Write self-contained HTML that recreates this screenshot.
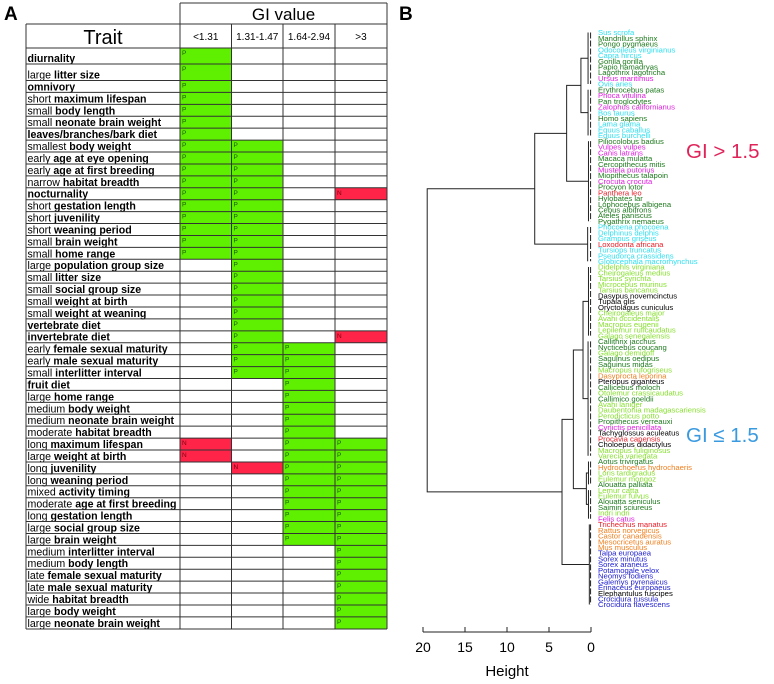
<!DOCTYPE html>
<html><head><meta charset="utf-8">
<style>
html,body{margin:0;padding:0;background:#fff;}
svg{display:block;font-family:"Liberation Sans",Arial,sans-serif;}
</style></head>
<body>
<svg id="fig" width="774" height="684" viewBox="0 0 774 684">
<text x="4" y="20" font-size="19" font-weight="bold">A</text>
<text x="399" y="20" font-size="19" font-weight="bold">B</text>
<g id="table"></g>
<g id="tree"></g>
<g id="labels"></g>
<g id="axis"></g>
<text x="686" y="158" font-size="20.5" fill="#e0245a">GI &gt; 1.5</text>
<text x="686" y="442" font-size="20.5" fill="#3a9ae0">GI ≤ 1.5</text>
</svg>
<script>
const NS="http://www.w3.org/2000/svg";
const traitPrefix=["","large","","short","small","small","","smallest","early","early","narrow","","short","short","short","small","small","large","small","small","small","small","","","early","early","small","","large","medium","medium","moderate","long","large","long","long","mixed","moderate","long","large","large","medium","medium","late","late","wide","large","large"];
const traitName=["diurnality","litter size","omnivory","maximum lifespan","body length","neonate brain weight","leaves/branches/bark diet","body weight","age at eye opening","age at first breeding","habitat breadth","nocturnality","gestation length","juvenility","weaning period","brain weight","home range","population group size","litter size","social group size","weight at birth","weight at weaning","vertebrate diet","invertebrate diet","female sexual maturity","male sexual maturity","interlitter interval","fruit diet","home range","body weight","neonate brain weight","habitat breadth","maximum lifespan","weight at birth","juvenility","weaning period","activity timing","age at first breeding","gestation length","social group size","brain weight","interlitter interval","body length","female sexual maturity","male sexual maturity","habitat breadth","body weight","neonate brain weight"];
const colLt131=["P","P","P","P","P","P","P","P","P","P","P","P","P","P","P","P","P","","","","","","","","","","","","","","","","N","N","","","","","","","","","","","","","",""];
const col131_147=["","","","","","","","P","P","P","P","P","P","P","P","P","P","P","P","P","P","P","P","P","P","P","P","","","","","","","","N","","","","","","","","","","","","",""];
const col164_294=["","","","","","","","","","","","","","","","","","","","","","","","","P","P","P","P","P","P","P","P","P","P","P","P","P","P","P","P","P","","","","","","",""];
const colGt3=["","","","","","","","","","","","N","","","","","","","","","","","","N","","","","","","","","","P","P","P","P","P","P","P","P","P","P","P","P","P","P","P","P"];
const colHeaders=["<1.31","1.31-1.47","1.64-2.94",">3"];

function el(tag,attrs,parent,text){const e=document.createElementNS(NS,tag);for(const k in attrs)e.setAttribute(k,attrs[k]);if(text!==undefined)e.textContent=text;parent.appendChild(e);return e;}

const T=document.getElementById('table');
const colX=[180,231.5,283,335,387];
const tx0=26;
function rowTop(i){return i<2?48+i*16:80.5+(i-2)*11.92;}
function rowBot(i){return i<47?rowTop(i+1):629;}
const cols=[colLt131,col131_147,col164_294,colGt3];
for(let i=0;i<traitName.length;i++){
  const y0=rowTop(i),y1=rowBot(i);
  for(let c=0;c<4;c++){
    const v=cols[c][i];
    if(v){
      const r=el('rect',{x:colX[c],y:y0,width:colX[c+1]-colX[c],height:y1-y0,fill:v==='P'?'#5ef000':'#ff2448'},T);
      
      
      const t=el('text',{x:colX[c]+2,y:y0+7,'font-size':6.5,fill:v==='P'?'#1a5a00':'#7a0010'},T,v);
      
      
    }
  }
  const t=el('text',{x:tx0+1.5,y:y1-2,'font-size':10.6,fill:'#000'},T);
  
  
  if(traitPrefix[i]){el('tspan',{},t,traitPrefix[i]+' ');}
  el('tspan',{'font-weight':'bold'},t,traitName[i]);
}
for(let i=0;i<=48;i++){const y=i<48?rowTop(i):629;el('line',{x1:tx0,x2:387,y1:y,y2:y,stroke:'#333','stroke-width':1},T);}
el('line',{x1:180,x2:387,y1:3,y2:3,stroke:'#333'},T);
el('line',{x1:tx0,x2:387,y1:24,y2:24,stroke:'#333'},T);
el('line',{x1:tx0,x2:tx0,y1:24,y2:629,stroke:'#333'},T);
el('line',{x1:180,x2:180,y1:3,y2:629,stroke:'#333'},T);
for(let c=1;c<4;c++)el('line',{x1:colX[c],x2:colX[c],y1:24,y2:629,stroke:'#333'},T);
el('line',{x1:387,x2:387,y1:3,y2:629,stroke:'#333'},T);
let h=el('text',{x:283.5,y:20,'font-size':17,'text-anchor':'middle'},T,'GI value');

h=el('text',{x:103,y:44,'font-size':20,'text-anchor':'middle'},T,'Trait');

for(let c=0;c<4;c++){const t=el('text',{x:(colX[c]+colX[c+1])/2,y:40,'font-size':10,'text-anchor':'middle'},T,colHeaders[c]);
}

const speciesList=[
["Sus scrofa","c"],["Mandrillus sphinx","g"],["Pongo pygmaeus","g"],["Odocoileus virginianus","c"],["Capra hircus","c"],["Gorilla gorilla","g"],["Papio hamadryas","g"],["Lagothrix lagotricha","g"],["Ursus maritimus","m"],["Ovis aries","c"],
["Erythrocebus patas","g"],["Phoca vitulina","m"],["Pan troglodytes","g"],["Zalophus californianus","m"],["Bos taurus","c"],["Homo sapiens","g"],["Lama glama","c"],["Equus caballus","c"],["Equus burchelli","c"],["Piliocolobus badius","g"],
["Vulpes vulpes","m"],["Canis latrans","m"],["Macaca mulatta","g"],["Cercopithecus mitis","g"],["Mustela putorius","m"],["Miopithecus talapoin","g"],["Crocuta crocuta","m"],["Procyon lotor","g"],["Panthera leo","r"],["Hylobates lar","g"],
["Lophocebus albigena","g"],["Cebus albifrons","g"],["Ateles paniscus","g"],["Pygathrix nemaeus","g"],["Phocoena phocoena","c"],["Delphinus delphis","c"],["Grampus griseus","c"],["Loxodonta africana","r"],["Tursiops truncatus","c"],["Pseudorca crassidens","c"],
["Globicephala macrorhynchus","c"],["Didelphis virginiana","l"],["Cheirogaleus medius","l"],["Tarsius syrichta","l"],["Microcebus murinus","l"],["Tarsius bancanus","l"],["Dasypus novemcinctus","k"],["Tupaia glis","k"],["Oryctolagus cuniculus","k"],["Cheirogaleus major","l"],
["Avahi occidentalis","l"],["Macropus eugenii","l"],["Lepilemur ruficaudatus","l"],["Galago senegalensis","l"],["Callithrix jacchus","g"],["Nycticebus coucang","g"],["Galago demidoff","l"],["Saguinus oedipus","g"],["Saguinus midas","g"],["Macropus rufogriseus","l"],
["Dasyprocta leporina","o"],["Pteropus giganteus","k"],["Callicebus moloch","g"],["Otolemur crassicaudatus","l"],["Callimico goeldii","g"],["Avahi laniger","l"],["Daubentonia madagascariensis","l"],["Perodicticus potto","l"],["Propithecus verreauxi","g"],["Cynictis penicillata","m"],
["Tachyglossus aculeatus","k"],["Procavia capensis","r"],["Choloepus didactylus","k"],["Macropus fuliginosus","l"],["Varecia variegata","l"],["Aotus trivirgatus","g"],["Hydrochoerus hydrochaeris","o"],["Loris tardigradus","l"],["Eulemur mongoz","l"],["Alouatta palliata","g"],
["Lemur catta","l"],["Eulemur fulvus","l"],["Alouatta seniculus","g"],["Saimiri sciureus","g"],["Indri indri","l"],["Felis catus","m"],["Trichechus manatus","r"],["Rattus norvegicus","o"],["Castor canadensis","o"],["Mesocricetus auratus","o"],
["Mus musculus","o"],["Talpa europaea","b"],["Sorex minutus","b"],["Sorex araneus","b"],["Potamogale velox","b"],["Neomys fodiens","b"],["Galemys pyrenaicus","b"],["Erinaceus europaeus","b"],["Elephantulus fuscipes","k"],["Crocidura russula","b"],
["Crocidura flavescens","b"]];
const groupColor={c:'#30e0f0',g:'#1e7a1e',m:'#e020e0',r:'#e8202a',l:'#88e030',o:'#f08020',b:'#2020d0',k:'#000'};
const nodeHeight=[19.5,6.7,2.9,1.2,0.35,0.35,0.3,0.4,3.45,2.1,0.95,0.3,0.35,0.55,0.3,0.3,0.2];
const nodeFirst=[0,0,0,0,0,10,19,34,41,41,41,41,54,75,75,80,86];
const nodeLast=[100,40,33,18,9,18,33,40,100,85,74,53,74,85,79,85,100];
const nodeKidA=[1,2,3,4,-1,-1,-1,-1,9,10,11,-1,-1,14,-1,-1,-1];
const nodeKidB=[8,7,6,5,-1,-1,-1,-1,16,13,12,-1,-1,15,-1,-1,-1];

const xH=v=>591-v*8.4;
const yL=i=>32.5+i*5.72;
const G=document.getElementById('tree');
function drawNode(n){
  const x=xH(nodeHeight[n]);
  if(nodeKidA[n]<0){
    const ya=yL(nodeFirst[n]),yb=yL(nodeLast[n]);
    el('line',{x1:x,x2:x,y1:ya,y2:yb,stroke:'#222','stroke-width':1},G);
    el('line',{x1:xH(0.05),x2:xH(0.05),y1:ya,y2:yb,stroke:'#222','stroke-width':1,'stroke-dasharray':'6,2'},G);
    return (ya+yb)/2;
  }
  const ya=drawNode(nodeKidA[n]),yb=drawNode(nodeKidB[n]);
  const xa=xH(nodeHeight[nodeKidA[n]]),xb=xH(nodeHeight[nodeKidB[n]]);
  el('path',{d:`M${xa},${ya}H${x}V${yb}H${xb}`,fill:'none',stroke:'#222','stroke-width':1},G);
  return (ya+yb)/2;
}
drawNode(0);
const L=document.getElementById('labels');
for(let i=0;i<speciesList.length;i++){
  const t=el('text',{x:598,y:yL(i)+2.7,'font-size':7.7,fill:groupColor[speciesList[i][1]]},L,speciesList[i][0]);
  
  
}
const A=document.getElementById('axis');
const ticks=[20,15,10,5,0];
el('line',{x1:xH(20),x2:xH(0),y1:632,y2:632,stroke:'#222'},A);
for(const v of ticks){
  el('line',{x1:xH(v),x2:xH(v),y1:632,y2:627,stroke:'#222'},A);
  const t=el('text',{x:xH(v),y:652,'font-size':14,'text-anchor':'middle'},A,String(v));
  
  
}
const ht=el('text',{x:xH(10),y:676,'font-size':15,'text-anchor':'middle'},A,'Height');


</script>
</body></html>
